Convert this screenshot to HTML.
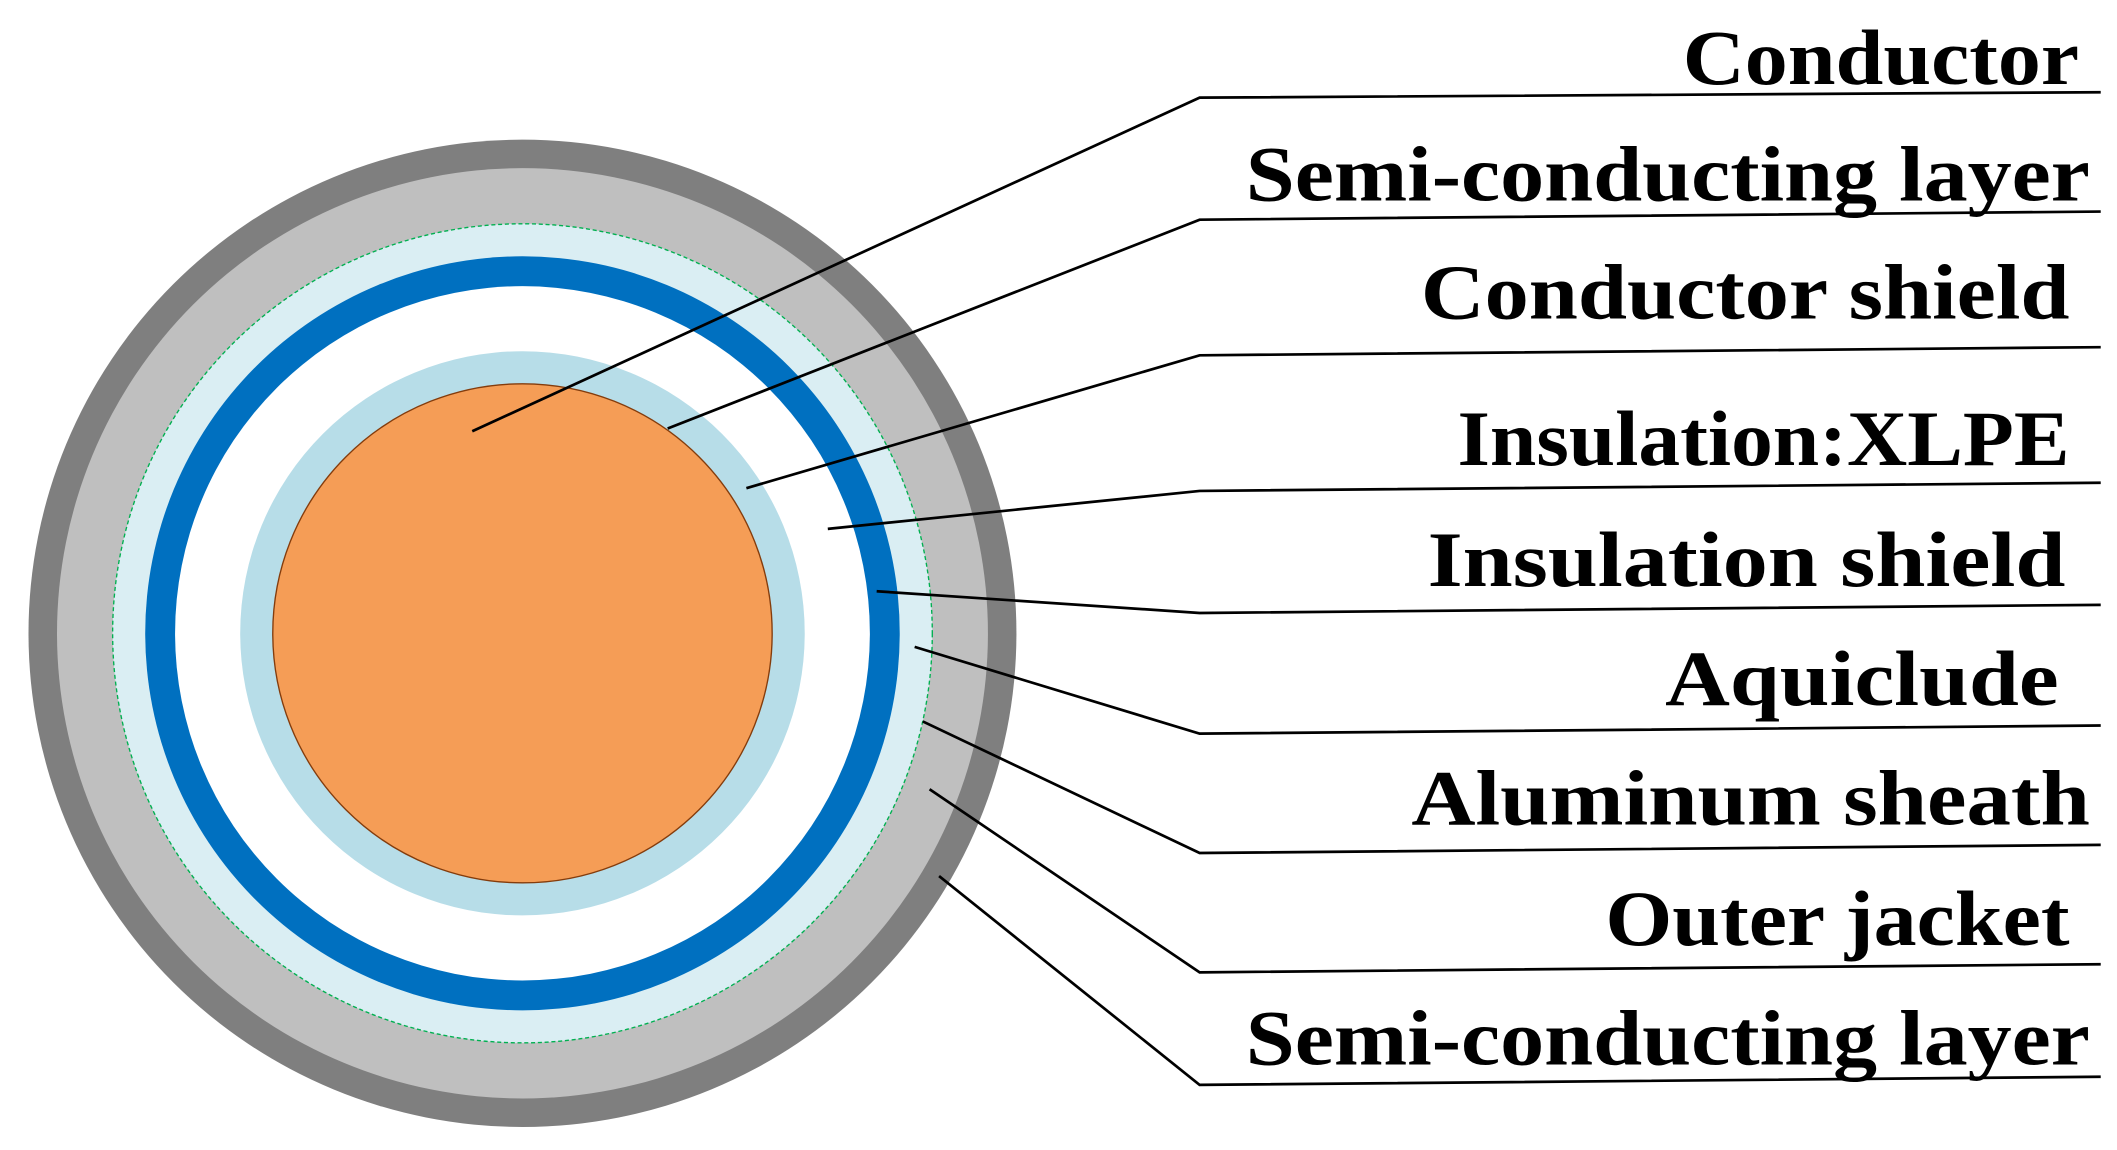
<!DOCTYPE html>
<html><head><meta charset="utf-8"><style>html,body{margin:0;padding:0;background:#fff;}svg{display:block}</style></head>
<body>
<svg width="2117" height="1150" viewBox="0 0 1560 848" preserveAspectRatio="none" xmlns="http://www.w3.org/2000/svg">
<circle cx="385" cy="467" r="364" fill="#7f7f7f"/>
<circle cx="385" cy="467" r="343" fill="#bfbfbf"/>
<circle cx="385" cy="467" r="302" fill="#daeef3" stroke="#00b050" stroke-width="1" stroke-dasharray="3,2"/>
<circle cx="385" cy="467" r="278" fill="#0070c0"/>
<circle cx="385" cy="467" r="256" fill="#fff"/>
<circle cx="385" cy="467" r="208" fill="#b7dde8"/>
<circle cx="385" cy="467" r="184" fill="#f59d56" stroke="#843c0c" stroke-width="1"/>
<g stroke="#000" stroke-width="2" fill="none">
<polyline points="348,318 884,72 1548,68"/>
<polyline points="492,316 884,162 1548,156"/>
<polyline points="550,360 884,262 1548,256"/>
<polyline points="610,390 884,362 1548,356"/>
<polyline points="646,436 884,452 1548,446"/>
<polyline points="674,477 884,541 1548,535"/>
<polyline points="680,532 884,629 1548,623"/>
<polyline points="685,582 884,717 1548,711"/>
<polyline points="692,646 884,800 1548,794"/>
</g>
<g font-family="'Liberation Serif',serif" font-weight="bold" font-size="58" fill="#000">
<text x="1240" y="62" textLength="292" lengthAdjust="spacingAndGlyphs">Conductor</text>
<text x="918" y="148" textLength="622" lengthAdjust="spacingAndGlyphs">Semi-conducting layer</text>
<text x="1047" y="235" textLength="478" lengthAdjust="spacingAndGlyphs">Conductor shield</text>
<text x="1074" y="343" textLength="451" lengthAdjust="spacingAndGlyphs">Insulation:XLPE</text>
<text x="1052" y="432" textLength="470" lengthAdjust="spacingAndGlyphs">Insulation shield</text>
<text x="1227" y="520" textLength="290" lengthAdjust="spacingAndGlyphs">Aquiclude</text>
<text x="1040" y="608" textLength="500" lengthAdjust="spacingAndGlyphs">Aluminum sheath</text>
<text x="1183" y="697" textLength="342" lengthAdjust="spacingAndGlyphs">Outer jacket</text>
<text x="918" y="785" textLength="622" lengthAdjust="spacingAndGlyphs">Semi-conducting layer</text>
</g>
</svg>
</body></html>
